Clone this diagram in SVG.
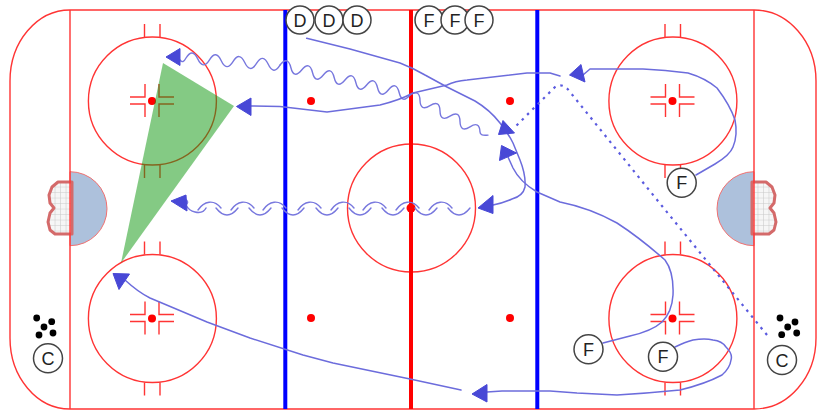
<svg xmlns="http://www.w3.org/2000/svg" width="828" height="413" viewBox="0 0 828 413">
<style>
.r{fill:none;stroke:#ff3434;stroke-width:1.4}
.dot{fill:#ff0000}
.c{fill:none;stroke:#6c6cdc;stroke-width:1.5;stroke-linejoin:round;stroke-linecap:round}
.w{fill:none;stroke:#7878de;stroke-width:1.4;stroke-linecap:round}
.d{fill:none;stroke:#5a5adf;stroke-width:2.2;stroke-dasharray:2.5 5}
.h{fill:#4848d6;stroke:#4848d6;stroke-width:1;stroke-linejoin:round}
.p circle{fill:#fff;stroke:#444;stroke-width:1.5}
.p text{font:18px "Liberation Sans",Arial,sans-serif;fill:#222;text-anchor:middle}
.pk{fill:#000}
.goal{fill:url(#net);stroke:#d46a6a;stroke-width:3;stroke-linejoin:round}
</style>
<defs>
<pattern id="net" width="5.5" height="5.5" patternUnits="userSpaceOnUse" x="50" y="182">
<rect width="5.5" height="5.5" fill="#f6f6f6"/>
<path d="M5.5,0V5.5M0,5.5H5.5" stroke="#c8c8c8" stroke-width="1" fill="none"/>
</pattern>
<g id="goal">
<path d="M70,171.7A37,37 0 0 1 70,245.7Z" fill="#adc1dc" stroke="#f07070" stroke-width="1"/>
<path class="goal" d="M72,182H58L52,187L49,195L50,203L54,208L50,213L48,222L50,230L55,234H72Z"/>
</g>
<g id="spot">
<path class="r" d="M145,84V97H130M159,84V97H174M145,117V104H130M159,117V104H174"/>
<circle class="dot" cx="152" cy="101" r="4"/>
</g>
<g id="fc">
<circle class="r" cx="152.4" cy="101" r="64"/>
<path class="r" d="M144.5,24V37M160,24V37M144.5,165V178M160,165V178"/>
<use href="#spot"/>
</g>
</defs>
<rect width="828" height="413" fill="#fff"/>
<g id="rink">
<use href="#goal"/>
<use href="#goal" transform="matrix(-1 0 0 1 824 0)"/>
<path class="r" d="M70,10H754A62,71 0 0 1 816,81V338A62,71 0 0 1 754,409H70A60,71 0 0 1 10,338V81A60,71 0 0 1 70,10Z"/>
<path class="r" d="M70,10V409M754,10V409"/>
<use href="#fc"/>
<use href="#fc" x="520.5"/>
<use href="#fc" y="217.5"/>
<use href="#fc" x="520.5" y="217.5"/>
<circle class="r" cx="411.5" cy="208" r="64"/>
<path d="M285.3,10V409M537.3,10V409" stroke="#0000ff" stroke-width="4" fill="none"/>
<path d="M411,10V409" stroke="#ff0000" stroke-width="4" fill="none"/>
<circle class="dot" cx="311" cy="101" r="4"/>
<circle class="dot" cx="510" cy="101" r="4"/>
<circle class="dot" cx="311" cy="318" r="4"/>
<circle class="dot" cx="510" cy="318" r="4"/>
<circle class="dot" cx="411" cy="208" r="4.5"/>
</g>
<polygon id="zone" points="163,63 234,106 121,263" fill="#0a960a" fill-opacity="0.5"/>
<g id="connectors">
<path class="w" d="M180,60Q183,64 186,58q6.5,-10.5 11.75,0.9t11.75,0.9t11.75,0.9t11.75,0.9t11.75,0.9t11.75,0.9t11.75,0.9t11.75,0.9"/>
<path class="w" d="M280,65q7.9,-9.5 10.83,2.5t10.83,2.5t10.83,2.5t10.83,2.5t10.83,2.5t10.83,2.5t10.83,2.5t10.83,2.5t10.83,2.5t10.83,2.5t10.83,2.5t10.83,2.5"/>
<path class="w" d="M410,95q9.7,-6.15 10,5.3t10,5.3t10,5.3t10,5.3t10,5.3t10,5.3t10,5.3q0,4 8,3"/>
<path class="w" d="M198,210c6,-9 16,-11 23,-2M231,210c6,-9 16,-11 23,-2M263,210c6,-9 16,-11 23,-2M298,210c6,-9 16,-11 23,-2M331,210c6,-9 16,-11 23,-2M363,210c6,-9 16,-11 23,-2M396,210c6,-9 16,-11 23,-2M429,210c6,-9 16,-11 23,-2"/>
<path class="w" d="M184,198q6,4 2,7q3,6 9,7q8,2 11,-4M216,208q11,14 22,0M249,208q11,14 22,0M282,208q11,14 22,0M316,208q11,14 22,0M349,208q11,14 22,0M382,208q11,14 22,0M415,208q11,14 22,0M448,208q11,14 22,0"/>
<path class="c" d="M306.7,38.3L350,49L400,63Q413,68 425,75L447,87L475,101Q490,110 500,123Q508,133 513,143L520,160Q526,175 525,187Q523,196 512,199Q503,203 493,205"/>
<path class="c" d="M603,343L630,336Q652,331 662,322Q672,312 673,295Q674,272 665,260Q640,238 617,223Q590,208 560,202L537,192Q520,182 513,168L508,157"/>
<path class="c" d="M696,175L715,164Q730,155 733,147Q738,135 735,120Q730,105 717,88Q705,78 688,73Q665,70 643,69L590,69L583,75"/>
<path class="c" d="M251,106L280,106.5L327,112L380,105Q400,100 413,93L447,85Q455,81 467,80L527,73L550,73L560,76"/>
<path class="c" d="M675,347Q685,342 693,340Q705,338 713,340Q722,341 726,347Q733,354 731,360Q730,368 722,375Q705,384 680,390Q650,393 617,395L577,393L550,391L502,391L487,392"/>
<path class="c" d="M461,390L410,379L333,363L303,355L250,338L207,322L150,298Q138,292 125,280"/>
<path class="d" d="M767,335L662,206L570,92Q563,82 555,87L515,127"/>
<polygon class="h" points="166,57 180,48.5 180,65.5"/>
<polygon class="h" points="236.5,106.5 251,98 251,115.5"/>
<polygon class="h" points="171,201 186,195 187,211"/>
<polygon class="h" points="498.5,134.5 503,120.5 514.5,133"/>
<polygon class="h" points="501.5,145.5 516.5,153 499.5,160.5"/>
<polygon class="h" points="478,208 493,195.5 493,213.5"/>
<polygon class="h" points="472,394 487,384.5 487,402"/>
<polygon class="h" points="569.5,75 581,64.5 585,82"/>
<polygon class="h" points="113,273.5 129.5,274 119,289.5"/>
</g>
<g id="D1" class="p"><circle cx="300" cy="20" r="14"/><text x="300" y="26.5">D</text></g>
<g id="D2" class="p"><circle cx="329" cy="20" r="14"/><text x="329" y="26.5">D</text></g>
<g id="D3" class="p"><circle cx="357" cy="20" r="14"/><text x="357" y="26.5">D</text></g>
<g id="F1" class="p"><circle cx="429" cy="20" r="14"/><text x="429" y="26.5">F</text></g>
<g id="F2" class="p"><circle cx="455" cy="20" r="14"/><text x="455" y="26.5">F</text></g>
<g id="F3" class="p"><circle cx="479" cy="20" r="14"/><text x="479" y="26.5">F</text></g>
<g id="F4" class="p"><circle cx="681.7" cy="182.7" r="14.5"/><text x="681.7" y="189">F</text></g>
<g id="F5" class="p"><circle cx="588.5" cy="349.3" r="14.5"/><text x="588.5" y="355.8">F</text></g>
<g id="F6" class="p"><circle cx="663" cy="356.7" r="14.5"/><text x="663" y="363">F</text></g>
<g id="C1" class="p"><circle cx="48" cy="358.3" r="14.5"/><text x="48" y="364.8">C</text></g>
<g id="C2" class="p"><circle cx="782" cy="360" r="14.5"/><text x="782" y="366.5">C</text></g>
<g id="pucks1" class="pk"><circle cx="36.7" cy="318" r="3.4"/><circle cx="51.7" cy="321.7" r="3.4"/><circle cx="44" cy="327" r="3.4"/><circle cx="39" cy="335" r="3.4"/><circle cx="53" cy="333" r="3.4"/></g>
<g id="pucks2" class="pk"><circle cx="780" cy="318" r="3.4"/><circle cx="795" cy="322" r="3.4"/><circle cx="787.7" cy="327" r="3.4"/><circle cx="781.7" cy="334.7" r="3.4"/><circle cx="796.7" cy="333" r="3.4"/></g>
</svg>
